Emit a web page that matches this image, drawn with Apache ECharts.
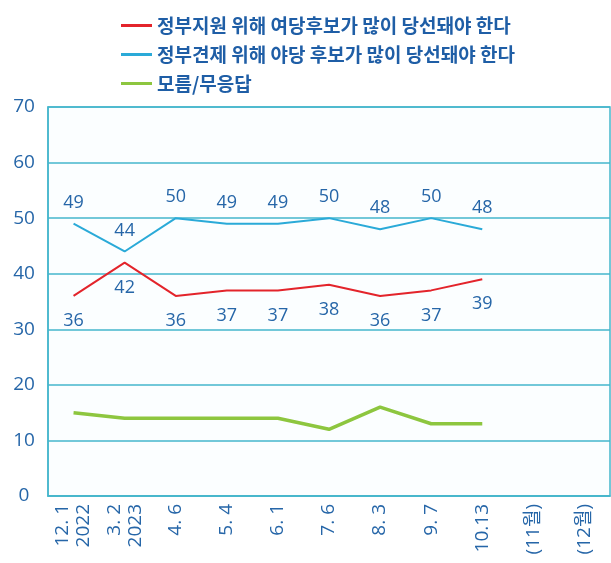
<!DOCTYPE html>
<html><head><meta charset="utf-8">
<script src="https://cdn.jsdelivr.net/npm/echarts@6/dist/echarts.min.js"></script>
<style>html,body{margin:0;padding:0;background:#fff}#c{width:611px;height:563px}</style>
</head><body><div id="c"></div>
<script>
const categories = ["12. 1\n2022", "3. 2\n2023", "4. 6", "5. 4", "6. 1", "7. 6", "8. 3", "9. 7", "10.13", "(11월)", "(12월)"];
const seriesNames = ["정부지원 위해 여당후보가 많이 당선돼야 한다", "정부견제 위해 야당 후보가 많이 당선돼야 한다", "모름/무응답"];
const ruling = [36, 42, 36, 37, 37, 38, 36, 37, 39, null, null];
const opposition = [49, 44, 50, 49, 49, 50, 48, 50, 48, null, null];
const unknown = [15, 14, 14, 14, 14, 12, 16, 13, 13, null, null];
const yTicks = [0, 10, 20, 30, 40, 50, 60, 70];

const textBlue = '#2666a8';
const gridColor = '#45b6cc';
const font = 'Open Sans, Noto Sans CJK KR, sans-serif';
const chart = echarts.init(document.getElementById('c'), null, {renderer: 'canvas'});
const labelStyle = (pos, dist) => ({show: true, position: pos, distance: dist, color: textBlue, fontSize: 18, fontFamily: font});
chart.setOption({
  animation: false,
  backgroundColor: '#ffffff',
  legend: {
    orient: 'vertical', left: 116, top: 10, itemGap: 8,
    itemWidth: 31, itemHeight: 3,
    textStyle: {color: '#1f5ea6', fontSize: 19, fontWeight: 'bold', fontFamily: 'Noto Sans CJK KR, sans-serif', lineHeight: 21},
    data: [
      {name: seriesNames[0], icon: 'rect', itemStyle: {color: '#e3242b'}},
      {name: seriesNames[1], icon: 'rect', itemStyle: {color: '#2aaad8'}},
      {name: seriesNames[2], icon: 'rect', itemStyle: {color: '#8dc63f'}}
    ]
  },
  grid: {left: 48, right: 1, top: 107, bottom: 67, show: true, borderColor: gridColor, borderWidth: 1.5, backgroundColor: '#fbfeff'},
  xAxis: {
    type: 'category', data: categories, boundaryGap: true,
    axisLine: {show: true, lineStyle: {color: gridColor, width: 1.5}},
    axisTick: {show: false},
    axisLabel: {rotate: 90, margin: 8, color: textBlue, fontSize: 19, fontFamily: font, lineHeight: 21, interval: 0}
  },
  yAxis: {
    type: 'value', min: yTicks[0], max: yTicks[yTicks.length - 1], interval: 10,
    axisLine: {show: true, lineStyle: {color: gridColor, width: 1.5}},
    axisTick: {show: false},
    splitLine: {show: true, lineStyle: {color: gridColor, width: 1.5}},
    axisLabel: {align: 'center', margin: 24, color: textBlue, fontSize: 19, fontFamily: font}
  },
  series: [
    {name: seriesNames[0], type: 'line', data: ruling, showSymbol: true, symbol: 'circle', symbolSize: 0,
     lineStyle: {color: '#e3242b', width: 2}, itemStyle: {color: '#e3242b'},
     label: labelStyle('bottom', 16)},
    {name: seriesNames[1], type: 'line', data: opposition, showSymbol: true, symbol: 'circle', symbolSize: 0,
     lineStyle: {color: '#2aaad8', width: 2}, itemStyle: {color: '#2aaad8'},
     label: labelStyle('top', 12)},
    {name: seriesNames[2], type: 'line', data: unknown, showSymbol: false, symbol: 'none',
     lineStyle: {color: '#8dc63f', width: 3.5}, itemStyle: {color: '#8dc63f'}}
  ]
});
</script></body></html>
